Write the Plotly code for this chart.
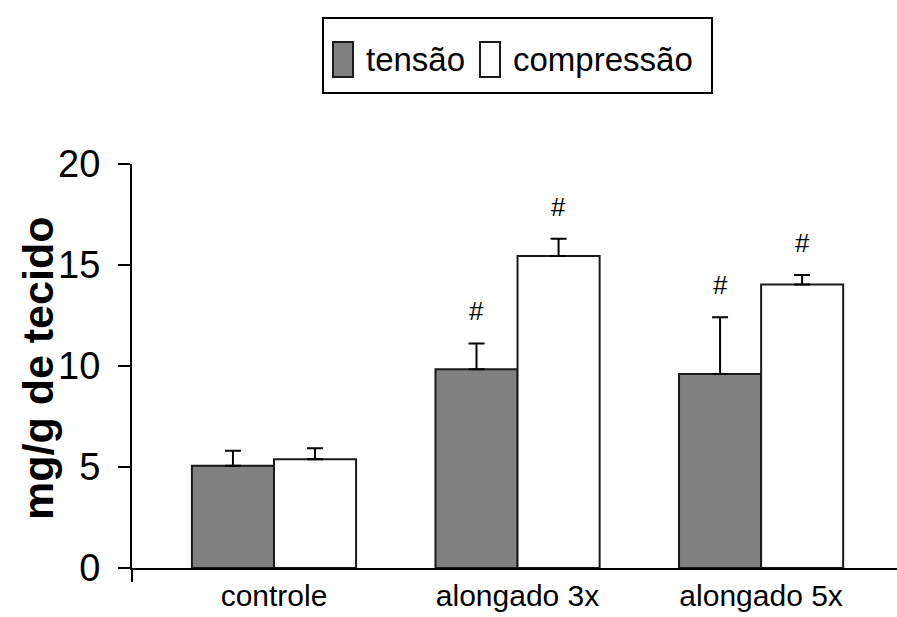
import plotly.graph_objects as go

# Data
categories = ["controle", "alongado 3x", "alongado 5x"]
tensao = [5.06, 9.84, 9.60]
tensao_err = [0.75, 1.28, 2.81]
compressao = [5.38, 15.45, 14.04]
compressao_err = [0.55, 0.85, 0.46]
tensao_sig = ["", "#", "#"]
compressao_sig = ["", "#", "#"]
y_ticks = [0, 5, 10, 15, 20]

W, H = 897, 617
L, R, T, B = 132, 0, 164, 49
plot_w = W - L - R
plot_h = H - T - B

SANS = "Liberation Sans, Arial, sans-serif"

x_pos = list(range(len(categories)))
bargap = 0.326
bar_w = (1 - bargap) / 2

fig = go.Figure()
fig.add_trace(go.Bar(
    x=x_pos, y=tensao, name="tensão",
    marker=dict(color="#808080", line=dict(color="#1a1a1a", width=2)),
    error_y=dict(type="data", symmetric=False, array=tensao_err,
                 arrayminus=[0] * len(tensao), color="black", thickness=2, width=8),
    showlegend=False,
))
fig.add_trace(go.Bar(
    x=x_pos, y=compressao, name="compressão",
    marker=dict(color="white", line=dict(color="#1a1a1a", width=2)),
    error_y=dict(type="data", symmetric=False, array=compressao_err,
                 arrayminus=[0] * len(compressao), color="black", thickness=2, width=8),
    showlegend=False,
))

# significance marks above the error bars
annotations = []
for i, c in enumerate(x_pos):
    for vals, errs, sig, off in ((tensao, tensao_err, tensao_sig, -bar_w / 2),
                                 (compressao, compressao_err, compressao_sig, bar_w / 2)):
        if sig[i]:
            annotations.append(dict(
                x=c + off, y=vals[i] + errs[i], xref="x", yref="y",
                text=sig[i], showarrow=False, yanchor="middle", yshift=32,
                font=dict(family=SANS, size=26, color="black"),
            ))

def px_x(px):
    return (px - L) / plot_w

def px_y(py):
    return (H - B - py) / plot_h

# y-axis title
annotations.append(dict(
    x=px_x(38), y=px_y(369), xref="paper", yref="paper",
    text="<b>mg/g de tecido</b>", textangle=-90, showarrow=False,
    xanchor="center", yanchor="middle",
    font=dict(family=SANS, size=43, color="black"),
))

# legend box drawn manually
shapes = [
    dict(type="rect", xref="paper", yref="paper",
         x0=px_x(323), x1=px_x(712), y0=px_y(93), y1=px_y(18),
         line=dict(color="black", width=2), fillcolor="white"),
    dict(type="rect", xref="paper", yref="paper",
         x0=px_x(333), x1=px_x(353), y0=px_y(77), y1=px_y(42),
         line=dict(color="#1a1a1a", width=2), fillcolor="#808080"),
    dict(type="rect", xref="paper", yref="paper",
         x0=px_x(480), x1=px_x(500), y0=px_y(77), y1=px_y(42),
         line=dict(color="#1a1a1a", width=2), fillcolor="white"),
    # y-axis line continues slightly below zero
    dict(type="line", xref="paper", yref="paper",
         x0=0, x1=0, y0=0, y1=px_y(582),
         line=dict(color="black", width=2)),
]
annotations.append(dict(
    x=px_x(364), y=px_y(59), xref="paper", yref="paper", text="tensão",
    showarrow=False, xanchor="left", yanchor="middle",
    font=dict(family=SANS, size=33, color="black"),
))
annotations.append(dict(
    x=px_x(511), y=px_y(59), xref="paper", yref="paper", text="compressão",
    showarrow=False, xanchor="left", yanchor="middle",
    font=dict(family=SANS, size=33, color="black"),
))

fig.update_layout(
    width=W, height=H,
    margin=dict(l=L, r=R, t=T, b=B, pad=0),
    paper_bgcolor="white", plot_bgcolor="white",
    barmode="group", bargap=bargap, bargroupgap=0,
    showlegend=False,
    xaxis=dict(
        tickmode="array", tickvals=x_pos, ticktext=categories,
        range=[-0.583, 2.558], showline=True, linecolor="black", linewidth=2,
        ticks="", showgrid=False, zeroline=False,
        tickfont=dict(family=SANS, size=30, color="black"),
    ),
    yaxis=dict(
        range=[0, 20], tickvals=y_ticks, showline=True, linecolor="black",
        linewidth=2, ticks="outside", ticklen=12, tickwidth=2, tickcolor="black",
        showgrid=False, zeroline=False,
        tickfont=dict(family=SANS, size=38, color="black"),
        ticklabelstandoff=10,
    ),
    shapes=shapes,
    annotations=annotations,
)

fig.write_html("out.html")
